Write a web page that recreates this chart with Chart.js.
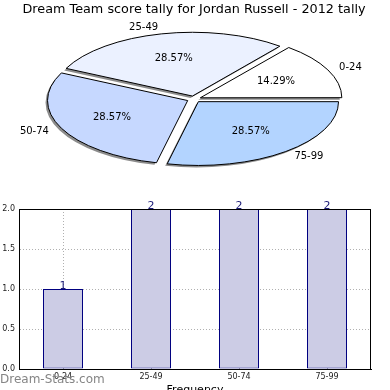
<!DOCTYPE html>
<html>
<head>
<meta charset="utf-8">
<script src="https://cdn.jsdelivr.net/npm/chart.js@4.4.0/dist/chart.umd.min.js"></script>
<style>
  html, body { margin: 0; padding: 0; background: #fff; overflow: hidden; }
  #wrap { position: relative; width: 390px; height: 390px; overflow: hidden; font-family: 'DejaVu Sans', sans-serif; }
  #pie-box { position: absolute; left: 0; top: 0; }
  #bar-box { position: absolute; left: 0; top: 200px; }
  #mark { position: absolute; left: 0; top: 372px; font-size: 12px; line-height: 14px; color: #858585; z-index: 5; }
</style>
</head>
<body>
<div id="wrap">
  <div id="pie-box"><canvas id="chart-pie" width="390" height="200"></canvas></div>
  <div id="bar-box"><canvas id="chart-bar" width="390" height="200"></canvas></div>
  <div id="mark">Dream-Stats.com</div>
</div>
<script>
var TITLE = 'Dream Team score tally for Jordan Russell - 2012 tally';
var CATEGORIES = ['0-24', '25-49', '50-74', '75-99'];
var COUNTS = [1, 2, 2, 2];
var PIE_COLORS = ['#ffffff', '#ebf1ff', '#c6d8ff', '#b3d4ff'];
var Y_TICKS = [0, 0.5, 1, 1.5, 2];

var SQUASH = 0.455;   // pie is drawn as an ellipse
var FONT = "'DejaVu Sans', sans-serif";

Chart.defaults.font.family = FONT;
Chart.defaults.color = '#000';

// matplotlib goes counter-clockwise from 3 o'clock, Chart.js clockwise -> reverse
var total = COUNTS.reduce(function (a, b) { return a + b; }, 0);
var pieLabels = CATEGORIES.slice().reverse();
var pieCounts = COUNTS.slice().reverse();
var pieColors = PIE_COLORS.slice().reverse();
var piePct = pieCounts.map(function (c) { return (c / total * 100).toFixed(2) + '%'; });

/** Squash the pie vertically, add a shadow, then write the labels. */
var ellipsePlugin = {
  id: 'ellipse',
  beforeDatasetsDraw: function (chart) {
    var arc = chart.getDatasetMeta(0).data[0];
    var ctx = chart.ctx;
    ctx.save();
    ctx.translate(arc.x, arc.y);
    ctx.scale(1, SQUASH);
    ctx.translate(-arc.x, -arc.y);
    ctx.shadowColor = 'rgba(0,0,0,0.45)';
    ctx.shadowOffsetX = -2;
    ctx.shadowOffsetY = 2;
    // keep the outline 1px all round, and without shadow
    var stroke = CanvasRenderingContext2D.prototype.stroke;
    ctx.stroke = function () {
      this.save();
      this.setTransform(1, 0, 0, 1, 0, 0);
      this.shadowColor = 'rgba(0,0,0,0)';
      stroke.call(this);
      this.restore();
    };
  },
  afterDatasetsDraw: function (chart) {
    var ctx = chart.ctx;
    delete ctx.stroke;
    ctx.restore();

    var meta = chart.getDatasetMeta(0);
    ctx.save();
    ctx.font = '10px ' + FONT;
    ctx.fillStyle = '#000';
    ctx.textBaseline = 'middle';
    meta.data.forEach(function (arc, i) {
      var mid = (arc.startAngle + arc.endAngle) / 2;
      var shift = (arc.options.offset || 0) / 4;
      var cos = Math.cos(mid), sin = Math.sin(mid);
      var d = arc.outerRadius * 1.1 + shift;
      ctx.textAlign = cos >= 0 ? 'left' : 'right';
      ctx.fillText(pieLabels[i], arc.x + cos * d, arc.y + sin * d * SQUASH);
      d = arc.outerRadius * 0.6 + shift;
      ctx.textAlign = 'center';
      ctx.fillText(piePct[i], arc.x + cos * d, arc.y + sin * d * SQUASH);
    });
    ctx.restore();
  }
};

new Chart(document.getElementById('chart-pie').getContext('2d'), {
  type: 'pie',
  data: {
    labels: pieLabels,
    datasets: [{
      data: pieCounts,
      backgroundColor: pieColors,
      borderColor: '#000',
      borderWidth: 1,
      offset: 28,
      clip: false
    }]
  },
  options: {
    responsive: false,
    animation: false,
    events: [],
    rotation: 90,
    radius: 140,
    layout: { padding: { left: 0, right: 2, top: 0, bottom: 21 } },
    plugins: {
      legend: { display: false },
      tooltip: { enabled: false },
      title: {
        display: true,
        text: TITLE,
        color: '#000',
        font: { size: 12.8, weight: 'normal' },
        padding: { top: 2, bottom: 2 }
      }
    }
  },
  plugins: [ellipsePlugin]
});

/** Black box round the plot area and the count above each bar. */
var barPlugin = {
  id: 'barExtras',
  afterDraw: function (chart) {
    var ctx = chart.ctx;
    var a = chart.chartArea;
    ctx.save();
    ctx.strokeStyle = '#000';
    ctx.lineWidth = 1;
    ctx.strokeRect(Math.round(a.left) + 0.5, Math.round(a.top) + 0.5,
      Math.round(a.right - a.left) - 1, Math.round(a.bottom - a.top));
    ctx.fillStyle = '#1c1c78';
    ctx.font = '11px ' + FONT;
    ctx.textAlign = 'center';
    ctx.textBaseline = 'bottom';
    chart.getDatasetMeta(0).data.forEach(function (bar, i) {
      ctx.fillText(COUNTS[i], bar.x, bar.y + 3);
    });
    ctx.restore();
  }
};

var gridOpts = { color: '#b0b0b0', lineWidth: 1, drawTicks: false };

new Chart(document.getElementById('chart-bar').getContext('2d'), {
  type: 'bar',
  data: {
    labels: CATEGORIES,
    datasets: [{
      data: COUNTS,
      backgroundColor: '#ccccE5',
      borderColor: '#000080',
      borderWidth: 1,
      borderSkipped: false,
      barPercentage: 0.4545,
      categoryPercentage: 1
    }]
  },
  options: {
    responsive: false,
    animation: false,
    events: [],
    layout: { padding: { top: 9, right: 19, left: 0, bottom: 0 } },
    plugins: { legend: { display: false }, tooltip: { enabled: false } },
    scales: {
      x: {
        z: 1,
        offset: true,
        grid: Object.assign({ offset: false }, gridOpts),
        border: { color: '#000', dash: [1, 2] },
        ticks: { font: { size: 8 }, color: '#222', padding: 3 },
        title: { display: true, text: 'Frequency', color: '#000', font: { size: 11 }, padding: { top: 0, bottom: 3 } },
        afterFit: function (s) { s.height = 31; }
      },
      y: {
        z: 1,
        min: 0,
        max: 2,
        grid: gridOpts,
        border: { color: '#000', dash: [1, 2] },
        ticks: {
          font: { size: 8 },
          color: '#222',
          padding: 4,
          callback: function (v) { return Number(v).toFixed(1); }
        },
        afterBuildTicks: function (s) {
          s.ticks = Y_TICKS.map(function (v) { return { value: v }; });
        },
        afterFit: function (s) { s.width = 19; }
      }
    }
  },
  plugins: [barPlugin]
});
</script>
</body>
</html>
